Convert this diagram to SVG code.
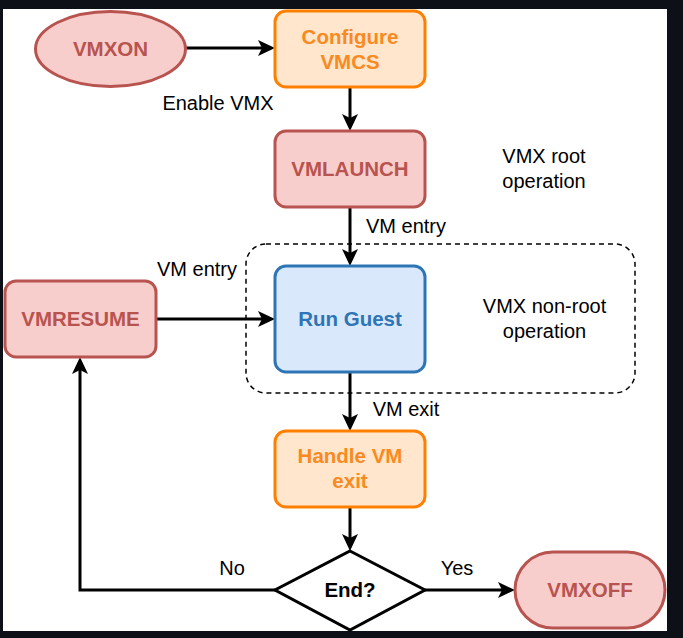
<svg xmlns="http://www.w3.org/2000/svg" width="683" height="638" viewBox="0 0 683 638">
<style>
text{font-family:"Liberation Sans",Arial,Helvetica,sans-serif;text-anchor:middle}
.lbl{font-size:20px;fill:#000}
.b{font-size:20.5px;font-weight:bold}
.red{fill:#f8cecc;stroke:#b85450;stroke-width:3}
.redt{fill:#b85450}
.org{fill:#ffe6cc;stroke:#ff8000;stroke-width:3}
.orgt{fill:#f98a1f}
.blu{fill:#dae8fc;stroke:#2e75b6;stroke-width:3}
.blut{fill:#2e75b6}
.edge{fill:none;stroke:#000;stroke-width:3;marker-end:url(#arr)}
</style>
<defs>
<marker id="arr" markerUnits="userSpaceOnUse" markerWidth="18" markerHeight="18" viewBox="0 0 18 18" refX="4" refY="8" orient="auto">
<path d="M0,0 L17,8 L0,16 L4,8 Z" fill="#000"/>
</marker>
</defs>
<rect x="0" y="0" width="683" height="638" fill="#0d1117"/>
<rect x="3" y="9" width="664" height="622" fill="#fff"/>

<g id="nonroot-region">
<rect x="246" y="244" width="389" height="149" rx="20" fill="none" stroke="#000" stroke-width="1.5" stroke-dasharray="5 4"/>
</g>

<g id="connectors">
<path class="edge" d="M186,48 L262,48"/>
<path class="edge" d="M350,87 L350,118"/>
<path class="edge" d="M350,207 L350,253"/>
<path class="edge" d="M156,319 L262,319"/>
<path class="edge" d="M350,372 L350,418"/>
<path class="edge" d="M350,507 L350,538"/>
<path class="edge" d="M425,590 L502,590"/>
<path class="edge" d="M275,590 L80,590 L80,370"/>
<text class="lbl" x="218" y="110">Enable VMX</text>
<text class="lbl" x="406" y="233">VM entry</text>
<text class="lbl" x="197" y="276">VM entry</text>
<text class="lbl" x="406" y="416">VM exit</text>
<text class="lbl" x="457" y="575">Yes</text>
<text class="lbl" x="232" y="575">No</text>
</g>

<g id="vmxon">
<ellipse class="red" cx="110.5" cy="49" rx="75" ry="37.5"/>
<text class="b redt" x="110.5" y="56">VMXON</text>
</g>
<g id="configure-vmcs">
<rect class="org" x="275" y="11" width="150" height="76" rx="11"/>
<text class="b orgt" x="350" y="44">Configure</text>
<text class="b orgt" x="350" y="69">VMCS</text>
</g>
<g id="vmlaunch">
<rect class="red" x="275" y="131" width="150" height="76" rx="11"/>
<text class="b redt" x="350" y="176">VMLAUNCH</text>
</g>
<g id="vmx-root-label">
<text class="lbl" x="544" y="163">VMX root</text>
<text class="lbl" x="544" y="188">operation</text>
</g>
<g id="run-guest">
<rect class="blu" x="275" y="266" width="150" height="106" rx="11"/>
<text class="b blut" x="350" y="326">Run Guest</text>
</g>
<g id="vmx-nonroot-label">
<text class="lbl" x="544.5" y="313">VMX non-root</text>
<text class="lbl" x="544.5" y="338">operation</text>
</g>
<g id="vmresume">
<rect class="red" x="5" y="281" width="151" height="76" rx="11"/>
<text class="b redt" x="80.5" y="326">VMRESUME</text>
</g>
<g id="handle-vm-exit">
<rect class="org" x="275" y="431" width="150" height="76" rx="11"/>
<text class="b orgt" x="350" y="463">Handle VM</text>
<text class="b orgt" x="350" y="488">exit</text>
</g>
<g id="end">
<polygon points="350,551 425,590 350,630 275,590" fill="#fff" stroke="#000" stroke-width="3"/>
<text class="b" x="350" y="597" fill="#000">End?</text>
</g>
<g id="vmxoff">
<rect class="red" x="515" y="552" width="150" height="76" rx="38"/>
<text class="b redt" x="590" y="597">VMXOFF</text>
</g>
</svg>
